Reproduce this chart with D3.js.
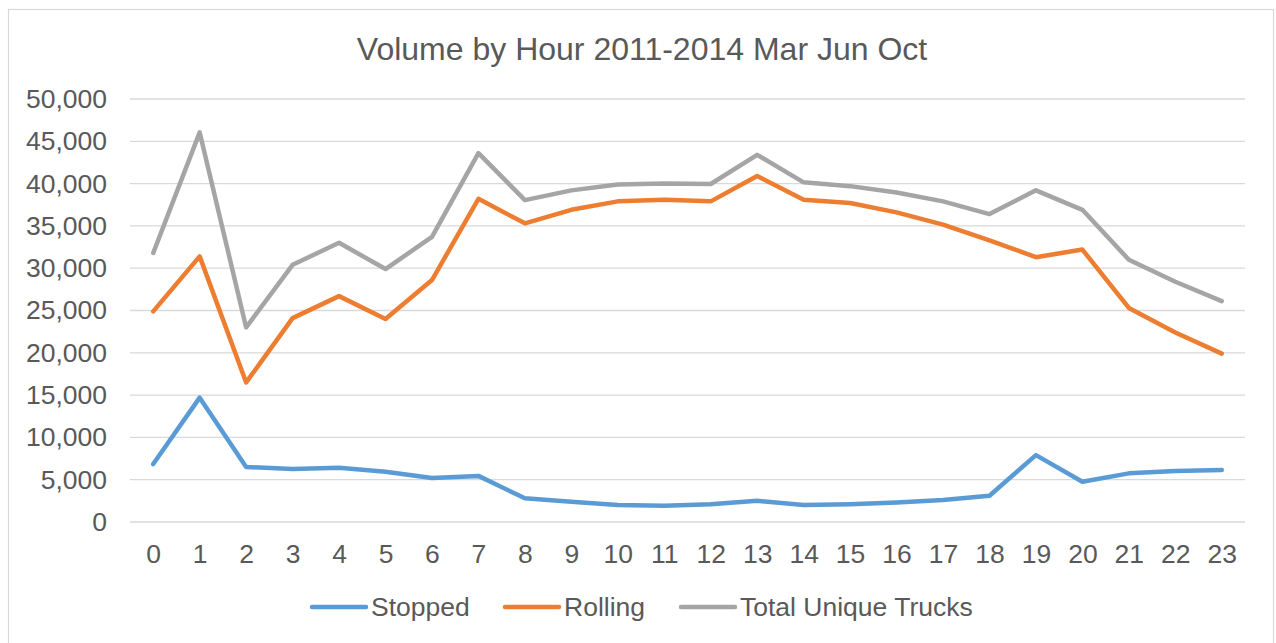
<!DOCTYPE html>
<html>
<head>
<meta charset="utf-8">
<script src="https://cdn.jsdelivr.net/npm/d3@7"></script>
<style>
  html, body { margin: 0; padding: 0; background: #ffffff; }
  svg { display: block; font-family: "Liberation Sans", Arial, sans-serif; }
</style>
</head>
<body>
<svg id="chart" width="1276" height="643"></svg>
<script>
// Hourly truck volumes (hours 0-23)
const hours = d3.range(0, 24);
const stopped = [6850, 14700, 6500, 6270, 6400, 5950, 5200, 5450, 2800, 2400, 2000, 1930, 2100, 2500, 2000, 2100, 2300, 2600, 3100, 7900, 4750, 5750, 6030, 6150];
const rolling = [24900, 31400, 16500, 24100, 26700, 24000, 28600, 38200, 35300, 36900, 37900, 38100, 37900, 40900, 38100, 37700, 36600, 35150, 33300, 31300, 32200, 25300, 22400, 19900];
const totalTrucks = [31800, 46050, 23000, 30400, 33000, 29900, 33700, 43600, 38050, 39200, 39900, 40000, 39950, 43400, 40150, 39700, 38950, 37900, 36400, 39200, 36900, 31000, 28400, 26100];
const yTicks = [0, 5000, 10000, 15000, 20000, 25000, 30000, 35000, 40000, 45000, 50000];

const seriesNames = ["Stopped", "Rolling", "Total Unique Trucks"];
const seriesValues = [stopped, rolling, totalTrucks];
const seriesColors = ["#5b9bd5", "#ed7d31", "#a5a5a5"];

const textColor = "#595959";
const gridColor = "#d9d9d9";
const labelFont = "Liberation Sans, Arial, sans-serif";

const svg = d3.select("#chart");

// outer chart frame
svg.append("rect")
  .attr("x", 8.5).attr("y", 9.5)
  .attr("width", 1265).attr("height", 660)
  .attr("fill", "#ffffff")
  .attr("stroke", gridColor)
  .attr("stroke-width", 1.2);

// title
svg.append("text")
  .attr("x", 642).attr("y", 60)
  .attr("text-anchor", "middle")
  .attr("fill", textColor)
  .attr("font-size", 32)
  .text("Volume by Hour 2011-2014 Mar Jun Oct");

const plotLeft = 130, plotRight = 1245;
const step = (plotRight - plotLeft) / 24;

const x = d3.scaleLinear()
  .domain([0, 23])
  .range([plotLeft + step / 2, plotRight - step / 2]);

const y = d3.scaleLinear()
  .domain([0, 50000])
  .range([522, 99]);

// horizontal gridlines
svg.append("g")
  .selectAll("line")
  .data(yTicks)
  .join("line")
  .attr("x1", plotLeft).attr("x2", plotRight)
  .attr("y1", d => y(d)).attr("y2", d => y(d))
  .attr("stroke", gridColor)
  .attr("stroke-width", 1.3);

// y axis labels
const fmt = d3.format(",");
const yAxis = d3.axisLeft(y).tickValues(yTicks).tickFormat(fmt).tickSize(0).tickPadding(0);
const yG = svg.append("g")
  .attr("transform", "translate(107,0)")
  .call(yAxis);
yG.select(".domain").remove();
yG.selectAll("text")
  .attr("fill", textColor)
  .attr("font-size", 26.5)
  .attr("font-family", labelFont);

// x axis labels
const xAxis = d3.axisBottom(x).tickValues(hours).tickFormat(d3.format("d")).tickSize(0).tickPadding(0);
const xG = svg.append("g")
  .attr("transform", "translate(0,544)")
  .call(xAxis);
xG.select(".domain").remove();
xG.selectAll("text")
  .attr("fill", textColor)
  .attr("font-size", 26.5)
  .attr("font-family", labelFont);

// series lines
const line = d3.line()
  .x((d, i) => x(hours[i]))
  .y(d => y(d));

svg.append("g")
  .selectAll("path")
  .data(seriesValues)
  .join("path")
  .attr("d", d => line(d))
  .attr("fill", "none")
  .attr("stroke", (d, i) => seriesColors[i])
  .attr("stroke-width", 4.5)
  .attr("stroke-linejoin", "round")
  .attr("stroke-linecap", "round");

// legend
const legendX = [312, 505, 681];
const legend = svg.append("g");
seriesNames.forEach((name, i) => {
  legend.append("line")
    .attr("x1", legendX[i]).attr("x2", legendX[i] + 54)
    .attr("y1", 607).attr("y2", 607)
    .attr("stroke", seriesColors[i])
    .attr("stroke-width", 4.5)
    .attr("stroke-linecap", "round");
  legend.append("text")
    .attr("x", legendX[i] + 59).attr("y", 616)
    .attr("fill", textColor)
    .attr("font-size", 26.5)
    .text(name);
});
</script>
</body>
</html>
